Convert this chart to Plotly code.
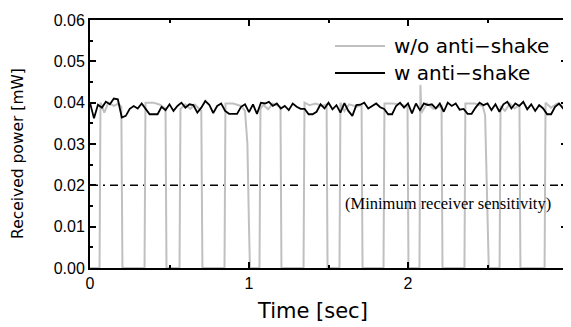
import plotly.graph_objects as go

# ---------------- data ----------------
# w/o anti-shake (gray): polyline vertices
gray_time = [0.000, 0.060, 0.066, 0.090, 0.115, 0.150, 0.180, 0.197, 0.204,
             0.343, 0.349, 0.400, 0.440, 0.470, 0.475, 0.481,
             0.563, 0.569, 0.600, 0.630, 0.660, 0.700, 0.707,
             0.846, 0.852, 0.900, 0.950, 0.975, 0.990, 1.000, 1.006,
             1.066, 1.072, 1.090, 1.120, 1.150, 1.198, 1.204,
             1.343, 1.349, 1.380, 1.420, 1.460, 1.488, 1.494,
             1.569, 1.575, 1.600, 1.630, 1.680, 1.708, 1.714,
             1.846, 1.852, 1.900, 1.950, 1.997, 2.003,
             2.072, 2.078, 2.084, 2.120, 2.160, 2.211, 2.217,
             2.355, 2.361, 2.420, 2.470, 2.485, 2.500, 2.508,
             2.576, 2.582, 2.610, 2.640, 2.670, 2.701, 2.707,
             2.859, 2.865, 2.900, 2.940, 2.980, 3.000]
gray_power = [0.0, 0.0, 0.0400, 0.0376, 0.0400, 0.0392, 0.0398, 0.0390, 0.0,
              0.0, 0.0400, 0.0400, 0.0395, 0.0386, 0.0386, 0.0,
              0.0, 0.0385, 0.0396, 0.0385, 0.0395, 0.0380, 0.0,
              0.0, 0.0398, 0.0398, 0.0392, 0.0380, 0.0300, 0.0100, 0.0,
              0.0, 0.0385, 0.0395, 0.0384, 0.0398, 0.0390, 0.0,
              0.0, 0.0400, 0.0394, 0.0398, 0.0392, 0.0396, 0.0,
              0.0, 0.0400, 0.0380, 0.0396, 0.0390, 0.0395, 0.0,
              0.0, 0.0398, 0.0398, 0.0396, 0.0390, 0.0,
              0.0, 0.0443, 0.0375, 0.0398, 0.0385, 0.0392, 0.0,
              0.0, 0.0398, 0.0398, 0.0392, 0.0370, 0.0150, 0.0,
              0.0, 0.0392, 0.0380, 0.0398, 0.0386, 0.0394, 0.0,
              0.0, 0.0400, 0.0388, 0.0398, 0.0390, 0.0396]

# w anti-shake (black): samples every 0.025 s
sample_dt = 0.025
black_power = [
    0.0400, 0.0362, 0.0395, 0.0388, 0.0402, 0.0396, 0.0410, 0.0408, 0.0364, 0.0368,
    0.0385, 0.0392, 0.0386, 0.0398, 0.0385, 0.0372, 0.0372, 0.0372, 0.0390, 0.0382,
    0.0396, 0.0380, 0.0392, 0.0400, 0.0388, 0.0396, 0.0394, 0.0376, 0.0388, 0.0404,
    0.0395, 0.0375, 0.0392, 0.0398, 0.0380, 0.0373, 0.0373, 0.0373, 0.0390, 0.0396,
    0.0377, 0.0396, 0.0373, 0.0400, 0.0398, 0.0402, 0.0392, 0.0398, 0.0386, 0.0392,
    0.0382, 0.0398, 0.0390, 0.0385, 0.0385, 0.0372, 0.0372, 0.0378, 0.0396, 0.0386,
    0.0400, 0.0384, 0.0394, 0.0376, 0.0399, 0.0380, 0.0368, 0.0394, 0.0395, 0.0400,
    0.0386, 0.0392, 0.0398, 0.0389, 0.0385, 0.0372, 0.0372, 0.0392, 0.0400, 0.0388,
    0.0398, 0.0374, 0.0398, 0.0382, 0.0398, 0.0394, 0.0396, 0.0386, 0.0398, 0.0378,
    0.0400, 0.0392, 0.0398, 0.0383, 0.0385, 0.0373, 0.0373, 0.0388, 0.0400, 0.0394,
    0.0398, 0.0382, 0.0396, 0.0378, 0.0396, 0.0402, 0.0386, 0.0398, 0.0392, 0.0402,
    0.0384, 0.0396, 0.0380, 0.0394, 0.0386, 0.0372, 0.0372, 0.0390, 0.0398, 0.0386,
    0.0390]
black_time = [i * sample_dt for i in range(len(black_power))]

sensitivity = 0.02
sensitivity_span = [0, 3]

x_ticks = [0, 1, 2, 3]
y_ticks = [0.00, 0.01, 0.02, 0.03, 0.04, 0.05, 0.06]
y_tick_labels = ["0.00", "0.01", "0.02", "0.03", "0.04", "0.05", "0.06"]

legend_labels = ["w/o anti−shake", "w anti−shake"]
GRAY = "#c0c0c0"

# page body has an 8px margin; figure is sized so the picture fills 571x327
PAGE_OFF = 8
PLOT_L, PLOT_R = 90, 567          # page pixels of x=0 and x=3
PLOT_W = PLOT_R - PLOT_L
TICK_FONT = dict(family="Liberation Sans, Arial", size=16, color="black")

# ---------------- figure ----------------
fig = go.Figure()
fig.add_trace(go.Scatter(x=sensitivity_span, y=[sensitivity, sensitivity], mode="lines",
                         line=dict(color="black", width=1.5, dash="8px,5px,2px,5px"),
                         showlegend=False, hoverinfo="skip"))
fig.add_trace(go.Scatter(x=gray_time, y=gray_power, mode="lines",
                         line=dict(color=GRAY, width=2), name=legend_labels[0],
                         showlegend=False))
fig.add_trace(go.Scatter(x=black_time, y=black_power, mode="lines",
                         line=dict(color="black", width=1.8), name=legend_labels[1],
                         showlegend=False))

axis_common = dict(showline=True, linecolor="black", linewidth=2, mirror="allticks",
                   ticks="inside", ticklen=6, tickwidth=1.5, tickcolor="black",
                   showgrid=False, zeroline=False, automargin=False,
                   ticklabeloverflow="allow", tickfont=TICK_FONT)

fig.update_xaxes(range=[0, 3], tickvals=x_ticks[:-1],
                 ticktext=[str(v) for v in x_ticks[:-1]],
                 minor=dict(ticks="inside", dtick=0.5, ticklen=3, tickwidth=1.5,
                            tickcolor="black"),
                 **axis_common)
fig.update_yaxes(range=[0, 0.06], tickvals=y_ticks, ticktext=y_tick_labels,
                 minor=dict(ticks="inside", dtick=0.005, ticklen=3, tickwidth=1.5,
                            tickcolor="black"),
                 **axis_common)

# last x tick label sits on the right page edge (half cut off, as in the reference)
fig.add_annotation(xref="paper", yref="paper", x=1, xshift=-2, y=0, yshift=-16,
                   text=str(x_ticks[-1]), showarrow=False, xanchor="left",
                   yanchor="middle", font=TICK_FONT)

# manual legend (long line samples like the reference)
legend_font = dict(family="DejaVu Sans", size=20, color="black")
leg_y = [0.0537, 0.0472]
leg_colors = [GRAY, "black"]
for lbl, yy, col in zip(legend_labels, leg_y, leg_colors):
    fig.add_shape(type="line", xref="paper", yref="y", x0=(335 - PLOT_L) / PLOT_W,
                  x1=(385 - PLOT_L) / PLOT_W, y0=yy, y1=yy, line=dict(color=col, width=2))
    fig.add_annotation(xref="paper", yref="y", x=(392 - PLOT_L) / PLOT_W, y=yy, text=lbl,
                       showarrow=False, xanchor="left", yanchor="middle",
                       font=legend_font)

fig.add_annotation(xref="paper", yref="y", x=(448 - PLOT_L) / PLOT_W, y=0.0157,
                   text="(Minimum receiver sensitivity)", showarrow=False,
                   xanchor="center", yanchor="middle",
                   font=dict(family="Liberation Serif, Times New Roman", size=16.5,
                             color="black"))

fig.add_annotation(xref="paper", yref="paper", x=(312 - PLOT_L) / PLOT_W, y=0,
                   yshift=-43, text="Time [sec]", showarrow=False,
                   xanchor="center", yanchor="middle",
                   font=dict(family="DejaVu Sans", size=21, color="black"))
fig.add_annotation(xref="paper", yref="paper", x=0, xshift=-72, y=0.46,
                   text="Received power [mW]", showarrow=False, textangle=-90,
                   xanchor="center", yanchor="middle",
                   font=dict(family="DejaVu Sans", size=15.5, color="black"))

fig.update_layout(width=571 - PAGE_OFF, height=327 - PAGE_OFF,
                  margin=dict(l=PLOT_L - PAGE_OFF, r=571 - PLOT_R, t=20 - PAGE_OFF,
                              b=327 - 268),
                  paper_bgcolor="white", plot_bgcolor="white", showlegend=False)

fig.write_html("out.html")
